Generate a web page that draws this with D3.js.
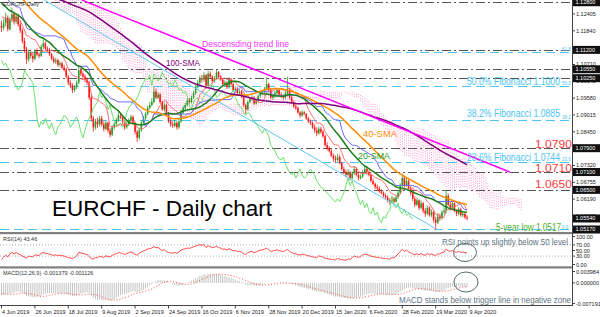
<!DOCTYPE html>
<html>
<head>
<meta charset="utf-8">
<script src="https://cdn.jsdelivr.net/npm/d3@7/dist/d3.min.js"></script>
<style>
body { margin: 0; background: #fff; }
svg { display: block; font-family: Arial, "Liberation Sans", sans-serif; }
</style>
</head>
<body>
<svg id="chart" width="600" height="317"></svg>
<script>
// price history before the first visible bar (needed for the 100-SMA and ichimoku)
var preClose = [1.1285,1.1300,1.1290,1.1310,1.1305,1.1320,1.1300,1.1290,1.1275,1.1290,1.1305,1.1320,1.1330,1.1315,1.1300,1.1310,1.1325,1.1340,1.1330,1.1320,
  1.1335,1.1345,1.1330,1.1315,1.1300,1.1310,1.1325,1.1310,1.1295,1.1285,1.1300,1.1315,1.1330,1.1320,1.1305,1.1290,1.1275,1.1290,1.1305,1.1315,
  1.1330,1.1340,1.1325,1.1310,1.1320,1.1335,1.1350,1.1360,1.1345,1.1335,1.1350,1.1365,1.1380,1.1370,1.1385,1.1395,1.1380,1.1390,1.1405,1.1400,
  1.1395,1.1405,1.1420,1.1415,1.1430,1.1445,1.1440,1.1455,1.1465,1.1460,1.1470,1.1455,1.1440,1.1430,1.1420,1.1410,1.1400,1.1395,1.1380,1.1365,
  1.1355,1.1345,1.1330,1.1340,1.1320,1.1305,1.1315,1.1300,1.1290,1.1295,1.1275,1.1280,1.1265,1.1270,1.1255,1.1245,1.1250,1.1235,1.1220,1.1200];
var preHigh = [1.1302,1.1318,1.1315,1.1322,1.1325,1.1335,1.1328,1.1308,1.1295,1.1302,1.1318,1.1335,1.1345,1.1338,1.1320,1.1322,1.1340,1.1355,1.1350,1.1338,
  1.1348,1.1360,1.1350,1.1335,1.1318,1.1322,1.1338,1.1330,1.1312,1.1300,1.1312,1.1328,1.1345,1.1338,1.1325,1.1310,1.1295,1.1302,1.1318,1.1328,
  1.1342,1.1355,1.1345,1.1328,1.1332,1.1348,1.1362,1.1375,1.1365,1.1350,1.1362,1.1378,1.1395,1.1388,1.1398,1.1410,1.1398,1.1402,1.1418,1.1415,
  1.1410,1.1420,1.1432,1.1430,1.1442,1.1458,1.1455,1.1468,1.1476,1.1472,1.1480,1.1472,1.1458,1.1445,1.1435,1.1425,1.1415,1.1408,1.1398,1.1382,
  1.1372,1.1362,1.1350,1.1348,1.1342,1.1322,1.1325,1.1318,1.1302,1.1305,1.1298,1.1290,1.1282,1.1278,1.1272,1.1258,1.1260,1.1255,1.1240,1.1225];
var preLow = [1.1270,1.1280,1.1282,1.1288,1.1295,1.1302,1.1295,1.1280,1.1262,1.1270,1.1288,1.1300,1.1315,1.1308,1.1292,1.1295,1.1305,1.1322,1.1322,1.1312,
  1.1315,1.1330,1.1322,1.1306,1.1292,1.1295,1.1305,1.1302,1.1285,1.1272,1.1280,1.1298,1.1312,1.1310,1.1296,1.1282,1.1265,1.1268,1.1285,1.1298,
  1.1310,1.1325,1.1318,1.1300,1.1305,1.1315,1.1332,1.1345,1.1338,1.1325,1.1330,1.1345,1.1360,1.1360,1.1365,1.1380,1.1372,1.1372,1.1385,1.1390,
  1.1380,1.1392,1.1400,1.1402,1.1412,1.1425,1.1428,1.1435,1.1450,1.1448,1.1452,1.1448,1.1432,1.1422,1.1412,1.1402,1.1392,1.1385,1.1372,1.1355,
  1.1345,1.1335,1.1322,1.1322,1.1312,1.1298,1.1298,1.1292,1.1282,1.1284,1.1268,1.1268,1.1258,1.1258,1.1248,1.1238,1.1240,1.1228,1.1215,1.1195];

// visible daily bars, 4 Jun 2019 .. 8 Apr 2020 (open = previous close)
var closes = [1.1195,1.1210,1.1228,1.1190,1.1222,1.1240,1.1215,1.1232,1.1205,1.1185,1.1150,1.1122,1.1088,1.1110,1.1100,1.1090,
  1.1115,1.1105,1.1100,1.1130,1.1142,1.1125,1.1120,1.1105,1.1090,1.1080,1.1085,1.1070,1.1075,1.1060,1.1055,1.1030,
  1.1010,1.1000,1.0985,1.0995,1.1010,1.1052,1.1040,1.1030,1.1020,1.1010,1.0960,1.0890,1.0860,1.0880,1.0870,1.0890,
  1.0870,1.0855,1.0875,1.0850,1.0835,1.0860,1.0870,1.0885,1.0900,1.0895,1.0880,1.0860,1.0870,1.0885,1.0895,1.0875,
  1.0845,1.0825,1.0850,1.0875,1.0890,1.0905,1.0925,1.0935,1.0945,1.0980,1.0960,1.0970,1.0945,1.0920,1.0935,1.0905,
  1.0880,1.0870,1.0865,1.0875,1.0860,1.0880,1.0910,1.0925,1.0935,1.0950,1.0945,1.0960,1.0975,1.0995,1.1010,1.1025,
  1.1020,1.1035,1.1000,1.1040,1.1030,1.1015,1.1025,1.1045,1.1030,1.1020,1.1005,1.1010,1.0995,1.1020,1.1005,1.0985,
  1.0990,1.0975,1.0980,1.0965,1.0935,1.0920,1.0945,1.0955,1.0960,1.0940,1.0950,1.0965,1.0975,1.0980,1.0990,1.1005,
  1.0985,1.0960,1.0965,1.0975,1.0985,1.0970,1.0965,1.0960,1.0975,1.0985,1.0960,1.0945,1.0930,1.0925,1.0910,1.0900,
  1.0910,1.0905,1.0890,1.0880,1.0875,1.0860,1.0850,1.0840,1.0855,1.0845,1.0830,1.0800,1.0790,1.0780,1.0765,1.0755,
  1.0750,1.0760,1.0740,1.0720,1.0710,1.0700,1.0710,1.0690,1.0705,1.0720,1.0700,1.0690,1.0695,1.0710,1.0720,1.0710,
  1.0700,1.0680,1.0670,1.0660,1.0655,1.0645,1.0640,1.0630,1.0625,1.0615,1.0610,1.0620,1.0610,1.0625,1.0640,1.0665,
  1.0690,1.0665,1.0680,1.0655,1.0640,1.0620,1.0600,1.0615,1.0590,1.0605,1.0580,1.0570,1.0590,1.0565,1.0575,1.0550,
  1.0540,1.0560,1.0555,1.0575,1.0580,1.0630,1.0600,1.0590,1.0605,1.0580,1.0570,1.0585,1.0565,1.0570,1.0558,1.0554];
var highs = [1.1218,1.1225,1.1245,1.1236,1.1230,1.1262,1.1248,1.1240,1.1238,1.1215,1.1192,1.1160,1.1130,1.1122,1.1118,1.1112,
  1.1122,1.1125,1.1112,1.1138,1.1155,1.1148,1.1132,1.1126,1.1110,1.1098,1.1094,1.1090,1.1084,1.1080,1.1070,1.1060,
  1.1036,1.1018,1.1008,1.1002,1.1018,1.1065,1.1060,1.1048,1.1038,1.1028,1.1015,1.0968,1.0898,1.0888,1.0892,1.0898,
  1.0898,1.0880,1.0882,1.0880,1.0858,1.0866,1.0878,1.0892,1.0910,1.0908,1.0902,1.0885,1.0878,1.0890,1.0902,1.0900,
  1.0880,1.0852,1.0858,1.0882,1.0898,1.0912,1.0932,1.0945,1.0958,1.0998,1.0990,1.0978,1.0975,1.0950,1.0942,1.0940,
  1.0912,1.0890,1.0880,1.0885,1.0880,1.0888,1.0918,1.0932,1.0942,1.0958,1.0958,1.0966,1.0982,1.1002,1.1018,1.1034,
  1.1036,1.1045,1.1040,1.1050,1.1048,1.1035,1.1032,1.1054,1.1050,1.1035,1.1025,1.1018,1.1015,1.1028,1.1026,1.1010,
  1.0998,1.0995,1.0988,1.0985,1.0968,1.0940,1.0950,1.0962,1.0968,1.0965,1.0956,1.0970,1.0980,1.0986,1.0996,1.1028,
  1.1010,1.0990,1.0972,1.0982,1.0992,1.0990,1.0976,1.0970,1.0980,1.1030,1.0992,1.0965,1.0950,1.0938,1.0930,1.0915,
  1.0918,1.0915,1.0908,1.0895,1.0886,1.0880,1.0870,1.0860,1.0862,1.0862,1.0850,1.0835,1.0810,1.0798,1.0788,1.0772,
  1.0765,1.0772,1.0768,1.0745,1.0728,1.0718,1.0720,1.0715,1.0712,1.0730,1.0726,1.0708,1.0702,1.0718,1.0730,1.0728,
  1.0716,1.0705,1.0688,1.0675,1.0668,1.0662,1.0652,1.0645,1.0638,1.0632,1.0622,1.0628,1.0625,1.0632,1.0648,1.0672,
  1.0705,1.0698,1.0692,1.0685,1.0662,1.0648,1.0628,1.0624,1.0618,1.0615,1.0610,1.0590,1.0598,1.0595,1.0585,1.0580,
  1.0560,1.0572,1.0570,1.0582,1.0592,1.0650,1.0638,1.0610,1.0612,1.0608,1.0585,1.0592,1.0590,1.0578,1.0575,1.0565];
var lows = [1.1180,1.1186,1.1198,1.1182,1.1185,1.1212,1.1205,1.1208,1.1198,1.1176,1.1142,1.1110,1.1072,1.1080,1.1092,1.1078,
  1.1085,1.1098,1.1092,1.1096,1.1122,1.1118,1.1112,1.1100,1.1085,1.1075,1.1072,1.1064,1.1062,1.1055,1.1048,1.1024,
  1.1002,1.0992,1.0975,1.0978,1.0988,1.1005,1.1032,1.1022,1.1012,1.1002,1.0952,1.0880,1.0846,1.0852,1.0858,1.0862,
  1.0862,1.0846,1.0850,1.0842,1.0826,1.0830,1.0852,1.0862,1.0878,1.0888,1.0872,1.0852,1.0855,1.0864,1.0880,1.0868,
  1.0836,1.0811,1.0818,1.0845,1.0868,1.0885,1.0900,1.0920,1.0930,1.0940,1.0955,1.0955,1.0938,1.0915,1.0914,1.0898,
  1.0875,1.0862,1.0858,1.0860,1.0852,1.0855,1.0875,1.0905,1.0918,1.0930,1.0938,1.0940,1.0955,1.0970,1.0990,1.1004,
  1.1010,1.1012,1.0992,1.0998,1.1022,1.1008,1.1010,1.1020,1.1024,1.1015,1.0998,1.0998,1.0988,1.0990,1.1000,1.0978,
  1.0978,1.0968,1.0970,1.0958,1.0928,1.0905,1.0915,1.0940,1.0948,1.0935,1.0936,1.0945,1.0960,1.0970,1.0975,1.0985,
  1.0980,1.0955,1.0952,1.0960,1.0968,1.0965,1.0960,1.0952,1.0955,1.0970,1.0955,1.0940,1.0925,1.0918,1.0905,1.0892,
  1.0895,1.0900,1.0885,1.0875,1.0868,1.0855,1.0842,1.0830,1.0835,1.0838,1.0825,1.0795,1.0782,1.0775,1.0760,1.0745,
  1.0740,1.0745,1.0735,1.0715,1.0702,1.0692,1.0695,1.0682,1.0685,1.0700,1.0695,1.0682,1.0685,1.0690,1.0705,1.0702,
  1.0695,1.0675,1.0665,1.0652,1.0648,1.0640,1.0635,1.0625,1.0618,1.0608,1.0600,1.0606,1.0604,1.0608,1.0620,1.0636,
  1.0660,1.0658,1.0660,1.0650,1.0632,1.0612,1.0592,1.0595,1.0582,1.0585,1.0572,1.0560,1.0565,1.0560,1.0558,1.0540,
  1.0517,1.0535,1.0545,1.0550,1.0568,1.0570,1.0595,1.0582,1.0585,1.0575,1.0562,1.0565,1.0560,1.0558,1.0552,1.0548];

// axis labels
var dateLabels = ["4 Jun 2019","26 Jun 2019","18 Jul 2019","9 Aug 2019","2 Sep 2019","24 Sep 2019","16 Oct 2019","6 Nov 2019",
  "28 Nov 2019","20 Dec 2019","15 Jan 2020","6 Feb 2020","28 Feb 2020","19 Mar 2020","9 Apr 2020"];
var priceTicks = [1.12405,1.11840,1.11275,1.10710,1.10145,1.09580,1.09015,1.08450,1.07885,1.07320,1.06755,1.06190,1.05625];
var levelLines = [1.1280,1.1120,1.1055,1.1025,1.0790,1.0710,1.0650];
var fibLevels = [1.1114,1.1000,1.0885,1.0744,1.0517];
var fibNames = ["61.8","50.0","38.2","23.6","0.0"];
var lastPrice = 1.0554;
var rsiTicks = [100,70,50,30,0];
var rsiLevels = [70,30];
var macdTicks = [0.003984,0,-0.007191];
// hand drawn lines: [bar index, price]
var trendLine = [[38.5,1.1287],[243.5,1.0710]];
var channelLine = [[20.5,1.1287],[207.5,1.0522]];

var svg = d3.select("#chart");
var plotR = 572;

var x = d3.scaleLinear().domain([0, 272]).range([1.5, 1.5 + 2.0875 * 272]);
var y = d3.scaleLinear().domain([1.05086, 1.12875]).range([232, 0]);
var yR = d3.scaleLinear().domain([0, 100]).range([264.5, 236.5]);
var yM = d3.scaleLinear().domain([-0.007191, 0.003984]).range([303.5, 271.5]);

var defs = svg.append("defs");
function clip(id, y0, h) {
  defs.append("clipPath").attr("id", id).append("rect").attr("x", 0).attr("y", y0).attr("width", plotR).attr("height", h);
}
clip("cMain", 0, 232);
clip("cRsi", 234, 32);
clip("cMacd", 268, 37);

// ---- indicators ----
var allC = preClose.concat(closes), allH = preHigh.concat(highs), allL = preLow.concat(lows);
var off = preClose.length, n = closes.length;

function sma(p, k) { return d3.mean(allC.slice(k - p + 1, k + 1)); }
function mid(p, k) { return (d3.max(allH.slice(k - p + 1, k + 1)) + d3.min(allL.slice(k - p + 1, k + 1))) / 2; }

var sma20 = [], sma40 = [], sma100 = [], tenkan = [], kijun = [], chikou = [], cloud = [];
for (var i = 0; i < n; i++) {
  var k = i + off;
  sma20.push([i, sma(20, k)]);
  sma40.push([i, sma(40, k)]);
  sma100.push([i, sma(100, k)]);
  tenkan.push([i, mid(9, k)]);
  kijun.push([i, mid(26, k)]);
  if (i >= 26) chikou.push([i - 26, closes[i]]);
}
for (var b = 0; b < n + 26; b++) {
  var k2 = b + off - 26;
  var a = (mid(9, k2) + mid(26, k2)) / 2;
  cloud.push([b, a, mid(52, k2)]);
}

// RSI 14 (wilder)
var rsi = [];
var ag = 0, al = 0;
for (var j = 1; j < allC.length; j++) {
  var ch = allC[j] - allC[j - 1];
  var g = Math.max(ch, 0), l = Math.max(-ch, 0);
  if (j <= 14) { ag += g / 14; al += l / 14; }
  else { ag = (ag * 13 + g) / 14; al = (al * 13 + l) / 14; }
  if (j - off >= 0) rsi.push([j - off, al === 0 ? 100 : 100 - 100 / (1 + ag / al)]);
}

// MACD 12,26,9 (signal = sma of main, like MT4)
var e12 = allC[0], e26 = allC[0], macd = [];
for (var m = 0; m < allC.length; m++) {
  e12 = e12 + (2 / 13) * (allC[m] - e12);
  e26 = e26 + (2 / 27) * (allC[m] - e26);
  macd.push(e12 - e26);
}
var macdVis = [], sigVis = [];
for (var q = 0; q < n; q++) {
  var kk = q + off;
  macdVis.push([q, macd[kk]]);
  sigVis.push([q, d3.mean(macd.slice(kk - 8, kk + 1))]);
}

// ---- main panel ----
var gMain = svg.append("g").attr("clip-path", "url(#cMain)");

// ichimoku cloud as dotted vertical hatching
gMain.append("g").selectAll("line").data(cloud).enter().append("line")
  .attr("x1", function(d) { return x(d[0]); })
  .attr("x2", function(d) { return x(d[0]); })
  .attr("y1", function(d) { return y(d[1]); })
  .attr("y2", function(d) { return y(d[2]); })
  .attr("stroke", "#ff99cc")
  .attr("stroke-width", 1)
  .attr("stroke-dasharray", "1,1.5");

// horizontal levels
gMain.selectAll(".lvl").data(levelLines).enter().append("line")
  .attr("x1", 0).attr("x2", plotR)
  .attr("y1", function(d) { return Math.round(y(d)) + 0.5; })
  .attr("y2", function(d) { return Math.round(y(d)) + 0.5; })
  .attr("stroke", "#555").attr("stroke-dasharray", "9,3,2,3");
gMain.selectAll(".fib").data(fibLevels).enter().append("line")
  .attr("x1", 0).attr("x2", plotR)
  .attr("y1", function(d) { return Math.round(y(d)) + 0.5; })
  .attr("y2", function(d) { return Math.round(y(d)) + 0.5; })
  .attr("stroke", "#4cc4f2").attr("stroke-dasharray", "9,5");
gMain.selectAll(".fibt").data(fibLevels).enter().append("text")
  .attr("x", 562).attr("y", function(d) { return y(d) - 0.5; })
  .attr("font-size", "4.5px").attr("fill", "#4cc4f2")
  .text(function(d, i) { return fibNames[i]; });

var line = d3.line().x(function(d) { return x(d[0]); }).y(function(d) { return y(d[1]); });
function drawLine(data, color, w) {
  gMain.append("path").datum(data).attr("d", line).attr("fill", "none")
    .attr("stroke", color).attr("stroke-width", w);
}

// candles
var candles = gMain.append("g");
closes.forEach(function(c, i) {
  var o = allC[i + off - 1];
  var up = c >= o;
  var col = up ? "#2a9d2a" : "#ff1a1a";
  var hi = Math.max(highs[i], o, c), lo = Math.min(lows[i], o, c);
  candles.append("line").attr("x1", x(i)).attr("x2", x(i))
    .attr("y1", y(hi)).attr("y2", y(lo)).attr("stroke", col).attr("stroke-width", 0.8);
  var top = y(Math.max(o, c)), bot = y(Math.min(o, c));
  candles.append("rect").attr("x", x(i) - 0.8).attr("width", 1.6)
    .attr("y", top).attr("height", Math.max(bot - top, 0.8)).attr("fill", col);
});

drawLine(chikou, "#6be26b", 1);
drawLine(tenkan, "#ff6060", 0.9);
drawLine(kijun, "#6a6aff", 1);
drawLine(sma20, "#1b7f1b", 1.5);
drawLine(sma40, "#ff8c00", 1.5);
drawLine(sma100, "#800080", 1.5);
drawLine(channelLine, "#5fc8f0", 1);
drawLine(trendLine, "#ff00ff", 1.5);

// annotations
function label(t, px, py, size, len, color) {
  svg.append("text").attr("x", px).attr("y", py).attr("font-size", size + "px")
    .attr("textLength", len).attr("lengthAdjust", "spacingAndGlyphs")
    .attr("fill", color).text(t);
}
svg.append("text").attr("x", 3).attr("y", 6).attr("font-size", "5.5px").attr("fill", "#333").text("EURCHF,Daily");
label("Descensding trend line", 202, 46.5, 9.5, 87, "#ff33ff");
label("100-SMA", 166, 65.5, 9.5, 34, "#800080");
label("40-SMA", 363, 136.5, 9.5, 34, "#ff8c00");
label("20-SMA", 358, 158.5, 9.5, 32, "#2a9d2a");
label("50.0% Fibonacci 1.1000", 467, y(1.1000) - 0.5, 10, 93, "#4cc4f2");
label("38.2% Fibonacci 1.0885", 467, y(1.0885) - 2.5, 10, 93, "#4cc4f2");
label("23.6% Fibonacci 1.0744", 467, y(1.0744) - 0.5, 10, 93, "#4cc4f2");
label("1.0790", 535, y(1.0790) - 0.5, 11.5, 37, "#ff3b3b");
label("1.0710", 535, y(1.0710) - 0.5, 11.5, 37, "#ff3b3b");
label("1.0650", 535, y(1.0650) - 1.5, 11.5, 37, "#ff3b3b");
label("5-year low 1.0517", 496, 231, 10.5, 65, "#4caf2a");
svg.append("text").attr("x", 52).attr("y", 216).attr("font-size", "22.5px").attr("fill", "#000").text("EURCHF - Daily chart");

// ---- RSI panel ----
var gR = svg.append("g").attr("clip-path", "url(#cRsi)");
gR.selectAll("line").data(rsiLevels).enter().append("line")
  .attr("x1", 0).attr("x2", plotR)
  .attr("y1", function(d) { return yR(d); }).attr("y2", function(d) { return yR(d); })
  .attr("stroke", "#aaa").attr("stroke-dasharray", "1,2");
gR.append("path").datum(rsi)
  .attr("d", d3.line().x(function(d) { return x(d[0]); }).y(function(d) { return yR(d[1]); }))
  .attr("fill", "none").attr("stroke", "#ff4a4a").attr("stroke-width", 1);
svg.append("text").attr("x", 3).attr("y", 241).attr("font-size", "5.5px").attr("fill", "#333").text("RSI(14) 43.46");

// ---- MACD panel ----
var gM = svg.append("g").attr("clip-path", "url(#cMacd)");
gM.selectAll("line").data(macdVis).enter().append("line")
  .attr("x1", function(d) { return x(d[0]); }).attr("x2", function(d) { return x(d[0]); })
  .attr("y1", yM(0)).attr("y2", function(d) { return yM(d[1]); })
  .attr("stroke", "#c4c4c4").attr("stroke-width", 1);
gM.append("path").datum(sigVis)
  .attr("d", d3.line().x(function(d) { return x(d[0]); }).y(function(d) { return yM(d[1]); }))
  .attr("fill", "none").attr("stroke", "#ff4a4a").attr("stroke-width", 1).attr("stroke-dasharray", "1,2");
svg.append("text").attr("x", 3).attr("y", 275).attr("font-size", "5.5px").attr("fill", "#333").text("MACD(12,26,9) -0.001379 -0.001126");

// notes with ellipses
label("RSI points up slightly below 50 level", 442, 245, 9.5, 126, "#607585");
var gNote = svg.append("g").attr("clip-path", "url(#cMacd)");
gNote.append("text").attr("x", 399).attr("y", 303).attr("font-size", "9.5px")
  .attr("textLength", 172).attr("lengthAdjust", "spacingAndGlyphs").attr("fill", "#607585")
  .text("MACD stands below trigger line in negative zone");
svg.append("ellipse").attr("cx", 465).attr("cy", 252.5).attr("rx", 11.5).attr("ry", 9)
  .attr("fill", "none").attr("stroke", "#5a6a70").attr("stroke-width", 1);
svg.append("ellipse").attr("cx", 466).attr("cy", 282).attr("rx", 12).attr("ry", 10)
  .attr("fill", "none").attr("stroke", "#5a6a70").attr("stroke-width", 1);

// ---- frame ----
svg.append("rect").attr("x", 0).attr("y", 232).attr("width", plotR).attr("height", 2.2).attr("fill", "#808080");
svg.append("rect").attr("x", 0).attr("y", 266.3).attr("width", plotR).attr("height", 2.2).attr("fill", "#808080");
svg.append("line").attr("x1", plotR + 0.5).attr("x2", plotR + 0.5).attr("y1", 0).attr("y2", 306).attr("stroke", "#444");
svg.append("line").attr("x1", 0).attr("x2", plotR).attr("y1", 305.5).attr("y2", 305.5).attr("stroke", "#444");

// price axis
var ax = svg.append("g").attr("font-size", "5.5px").attr("fill", "#222");
priceTicks.forEach(function(v) {
  ax.append("line").attr("x1", plotR).attr("x2", plotR + 3).attr("y1", y(v)).attr("y2", y(v)).attr("stroke", "#444");
  ax.append("text").attr("x", plotR + 4).attr("y", y(v) + 2).text(v.toFixed(5));
});
function box(v, yy) {
  ax.append("rect").attr("x", plotR + 1).attr("y", yy - 4).attr("width", 27).attr("height", 8).attr("fill", "#111");
  ax.append("text").attr("x", plotR + 3.5).attr("y", yy + 2).attr("fill", "#fff").text(v.toFixed(5));
}
levelLines.forEach(function(v) { box(v, y(v)); });
box(lastPrice, y(lastPrice));
box(fibLevels[4], y(fibLevels[4]));

rsiTicks.forEach(function(v) {
  ax.append("line").attr("x1", plotR).attr("x2", plotR + 3).attr("y1", yR(v)).attr("y2", yR(v)).attr("stroke", "#444");
  ax.append("text").attr("x", plotR + 4).attr("y", yR(v) + 2).text(v.toFixed(2));
});
macdTicks.forEach(function(v) {
  ax.append("line").attr("x1", plotR).attr("x2", plotR + 3).attr("y1", yM(v)).attr("y2", yM(v)).attr("stroke", "#444");
  ax.append("text").attr("x", plotR + 4).attr("y", yM(v) + 2).text(v.toFixed(6));
});

// date axis
dateLabels.forEach(function(t, i) {
  var xx = x(i * 16);
  ax.append("line").attr("x1", xx).attr("x2", xx).attr("y1", 305.5).attr("y2", 308.5).attr("stroke", "#444");
  ax.append("text").attr("x", xx + 0.5).attr("y", 314).text(t);
});
</script>
</body>
</html>
